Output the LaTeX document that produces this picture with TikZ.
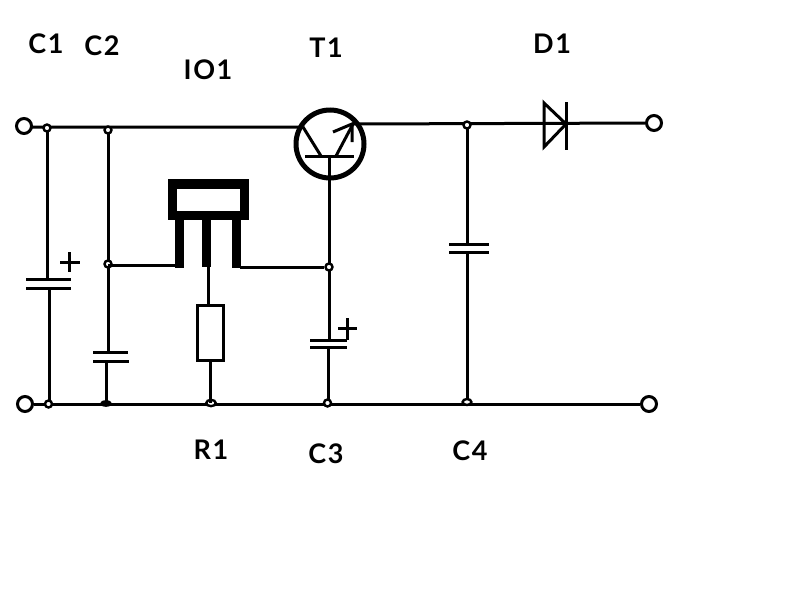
\documentclass[tikz,border=0pt]{standalone}
\usepackage{fontspec}
\setmainfont{Lato}[LetterSpace=6,BoldFont={Lato Bold}]
\tikzset{
  wire/.style={line width=3pt,black},
  plate/.style={line width=3pt,black},
  term/.style={circle,draw=black,line width=3pt,fill=white,minimum size=15pt,inner sep=0pt},
  junc/.style={circle,draw=black,line width=2.4pt,fill=white,minimum size=7pt,inner sep=0pt},
  lab/.style={font=\fontsize{27}{29}\selectfont\bfseries,text=black,inner sep=0pt,anchor=center}
}
\begin{document}
\begin{tikzpicture}[x=1pt,y=-1pt]
\useasboundingbox (0,0) rectangle (791,608);
\fill[white] (0,0) rectangle (791,608);
% terminals
\node[term] (tl) at (24,126) {};
\node[term] (bl) at (25,404) {};
\node[term] (tr) at (654,123) {};
\node[term] (br) at (649,404) {};
% wire ends
\coordinate (c1a) at (47,279); \coordinate (c1b) at (49,288);
\coordinate (c2a) at (108,352); \coordinate (c2b) at (106,361);
\coordinate (c3a) at (329,340); \coordinate (c3b) at (328,347);
\coordinate (c4a) at (467,244); \coordinate (c4b) at (467,252);
\coordinate (tc) at (329,156);
\coordinate (teIn) at (303,127); \coordinate (teOut) at (353,124);
\coordinate (io) at (208,266);
\coordinate (iob) at (208,305);
% wires
\draw[wire] (tl) -- (31,127) -- (teIn);
\draw[wire] (teOut) -- (tr);
\draw[wire] (bl) -- (br);
\draw[wire] (47,128) -- (c1a);
\draw[wire] (c1b) -- (49,404);
\draw[wire] (108,130) -- (c2a);
\draw[wire] (c2b) -- (106,404);
\draw[wire] (tc) -- (c3a);
\draw[wire] (c3b) -- (328,403);
\draw[wire] (467,125) -- (c4a);
\draw[wire] (c4b) -- (467,402);
% junctions
\node[junc] (j1) at (47,128) {};
\node[junc] (j2) at (108,130) {};
\node[junc] (j3) at (108,264) {};
\node[junc] (j4) at (329,267) {};
\node[junc] (j5) at (467,125) {};
\node[junc] (j6) at (48.5,404) {};
\node[circle,fill=black,minimum size=12pt,inner sep=0pt,yscale=.55] (j7) at (106,403.5) {};
\node[junc,xscale=1.35,yscale=.9] (j8) at (211,403) {};
\node[junc] (j9) at (327.5,403) {};
\node[junc,xscale=1.25,yscale=.85] (j10) at (467,402) {};
% capacitor plates
\draw[plate] (26,279) -- (71,279);
\draw[plate] (26,288) -- (71,288);
\draw[plate] (93,352) -- (128,352);
\draw[plate] (93,361) -- (129,361);
\draw[plate] (310,340) -- (347,340);
\draw[plate] (310,347) -- (347,347);
\draw[plate] (449,244) -- (489,244);
\draw[plate] (449,252) -- (489,252);
% plus signs
\draw[plate] (60,262) -- (80,262);
\draw[plate] (69.5,252) -- (69.5,272);
\draw[plate] (338,328) -- (357,328);
\draw[plate] (347.5,318) -- (347.5,340);
% transistor
\draw[line width=5pt] (330,144) circle (34);
\draw[wire] (305,156) -- (354,156);
\draw[wire] (teIn) -- (321,156);
\draw[wire] (336,156) -- (teOut);
\draw[wire] (333,132) -- (352,124) -- (352,142);
% regulator
\draw[line width=9.5pt] (172.5,184) rectangle (244.5,215.5);
\fill (175,215) rectangle (184,268);
\fill (202,215) rectangle (211,267);
\fill (232,215) rectangle (241,268);
\draw[wire] (108,265) -- (176,265);
\draw[wire] (240,267) -- (j4);
% resistor
\draw[wire] (io) -- (iob);
\draw[wire] (210,360) -- (210,403);
\node[draw=black,line width=3pt,fill=white,minimum width=26pt,minimum height=55pt,inner sep=0pt] (r1) at (210,332.5) {};
% diode
\draw[wire,line join=miter] (544,103) -- (566,124) -- (544,147) -- cycle;
\draw[wire] (566,102) -- (566,150);
% labels
\node[lab] (lc1) at (46,44) {C1};
\node[lab] (lc2) at (102,46) {C2};
\node[lab] (lio) at (208,70) {IO1};
\node[lab] (lt1) at (326,48) {T1};
\node[lab] (ld1) at (552,44) {D1};
\node[lab] (lr1) at (211,450) {R1};
\node[lab] (lc3) at (326,454) {C3};
\node[lab] (lc4) at (470,451) {C4};
\end{tikzpicture}
\end{document}
